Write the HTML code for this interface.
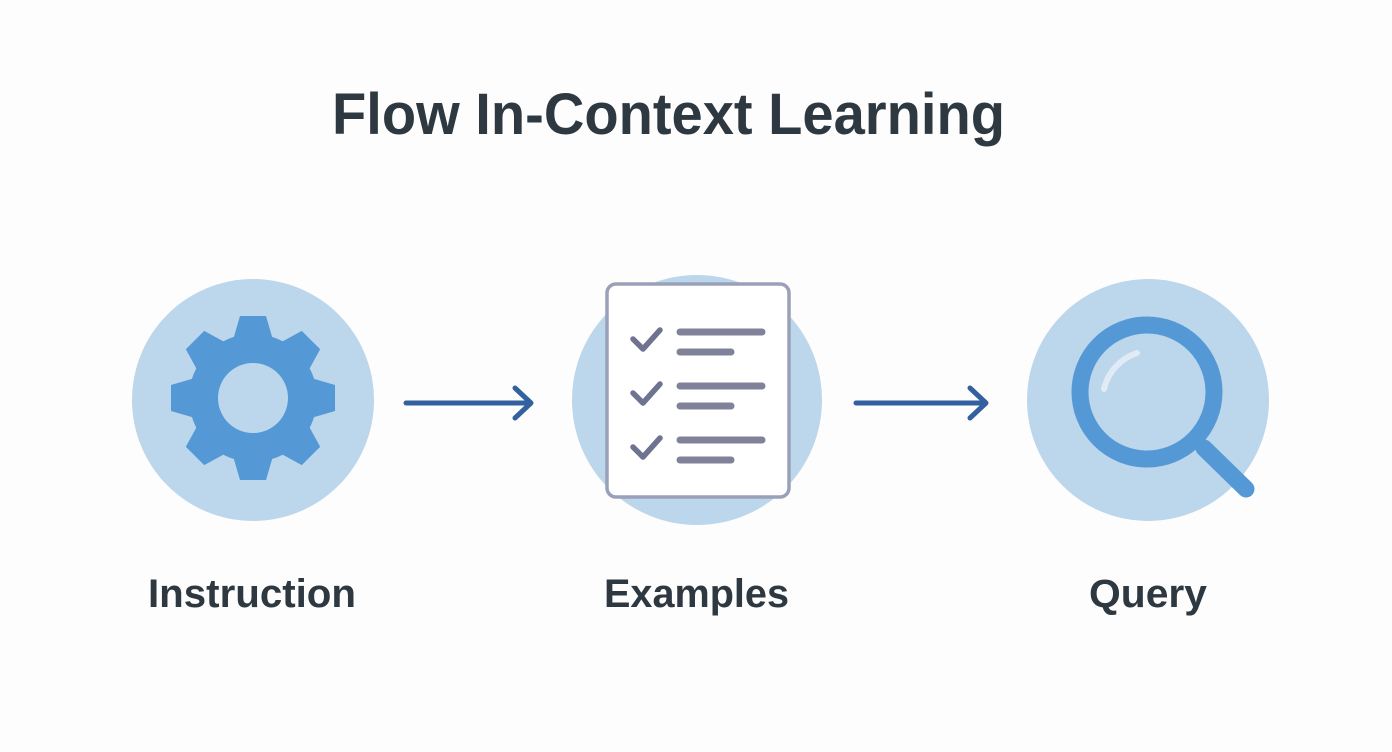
<!DOCTYPE html>
<html><head><meta charset="utf-8"><style>
html,body{margin:0;padding:0;background:#fdfdfd;}
svg{display:block;}
text{font-family:"Liberation Sans",sans-serif;font-weight:bold;fill:#2e3841;}
</style></head><body>
<svg width="1392" height="752" viewBox="0 0 1392 752">
<rect width="1392" height="752" fill="#fdfdfd"/>
<text x="332" y="134" font-size="58" textLength="673" lengthAdjust="spacingAndGlyphs">Flow In-Context Learning</text>

<!-- Instruction -->
<circle cx="253" cy="400" r="121" fill="#bcd6eb"/>
<g transform="translate(253,398)" fill="#5499d6">
  <circle r="64"/>
  <g id="t"><path d="M-20,-58 L-13,-82 L13,-82 L20,-58 Z"/></g>
  <use href="#t" transform="rotate(45)"/>
  <use href="#t" transform="rotate(90)"/>
  <use href="#t" transform="rotate(135)"/>
  <use href="#t" transform="rotate(180)"/>
  <use href="#t" transform="rotate(225)"/>
  <use href="#t" transform="rotate(270)"/>
  <use href="#t" transform="rotate(315)"/>
  <circle r="35" fill="#bcd6eb"/>
</g>
<text x="148" y="607" font-size="40" textLength="208" lengthAdjust="spacingAndGlyphs">Instruction</text>

<!-- arrows -->
<g stroke="#33609f" stroke-width="5" stroke-linecap="round" stroke-linejoin="round" fill="none">
  <line x1="406" y1="403" x2="530" y2="403"/>
  <polyline points="515,388 531,403 515,418"/>
  <line x1="856" y1="403" x2="985" y2="403"/>
  <polyline points="970,388 986,403 970,418"/>
</g>

<!-- Examples -->
<circle cx="697" cy="400" r="125" fill="#bcd6eb"/>
<rect x="607" y="284" width="182" height="213" rx="9" fill="#fff" stroke="#9aa0b8" stroke-width="3.5"/>
<g stroke="#7f8299" stroke-linecap="round" stroke-linejoin="round" fill="none">
  <g stroke-width="7">
    <line x1="680" y1="332" x2="762" y2="332"/><line x1="680" y1="352" x2="731" y2="352"/>
    <line x1="680" y1="386" x2="762" y2="386"/><line x1="680" y1="406" x2="731" y2="406"/>
    <line x1="680" y1="440" x2="762" y2="440"/><line x1="680" y1="460" x2="731" y2="460"/>
  </g>
  <g stroke-width="5.5" stroke="#6f7290">
    <polyline points="633,339 643,349 660,330"/>
    <polyline points="633,393 643,403 660,384"/>
    <polyline points="633,447 643,457 660,438"/>
  </g>
</g>
<text x="604" y="607" font-size="40" textLength="185" lengthAdjust="spacingAndGlyphs">Examples</text>

<!-- Query -->
<circle cx="1148" cy="400" r="121" fill="#bcd6eb"/>
<line x1="1204" y1="448" x2="1246" y2="489" stroke="#5499d6" stroke-width="17" stroke-linecap="round"/>
<circle cx="1147" cy="392" r="67" fill="#bcd6eb" stroke="#5499d6" stroke-width="17"/>
<path d="M1104,389 A50,50 0 0 1 1137,353" stroke="#e6eef7" stroke-width="6" fill="none" stroke-linecap="round" opacity="0.85"/>
<text x="1089" y="607" font-size="40" textLength="118" lengthAdjust="spacingAndGlyphs">Query</text>
</svg>
</body></html>
